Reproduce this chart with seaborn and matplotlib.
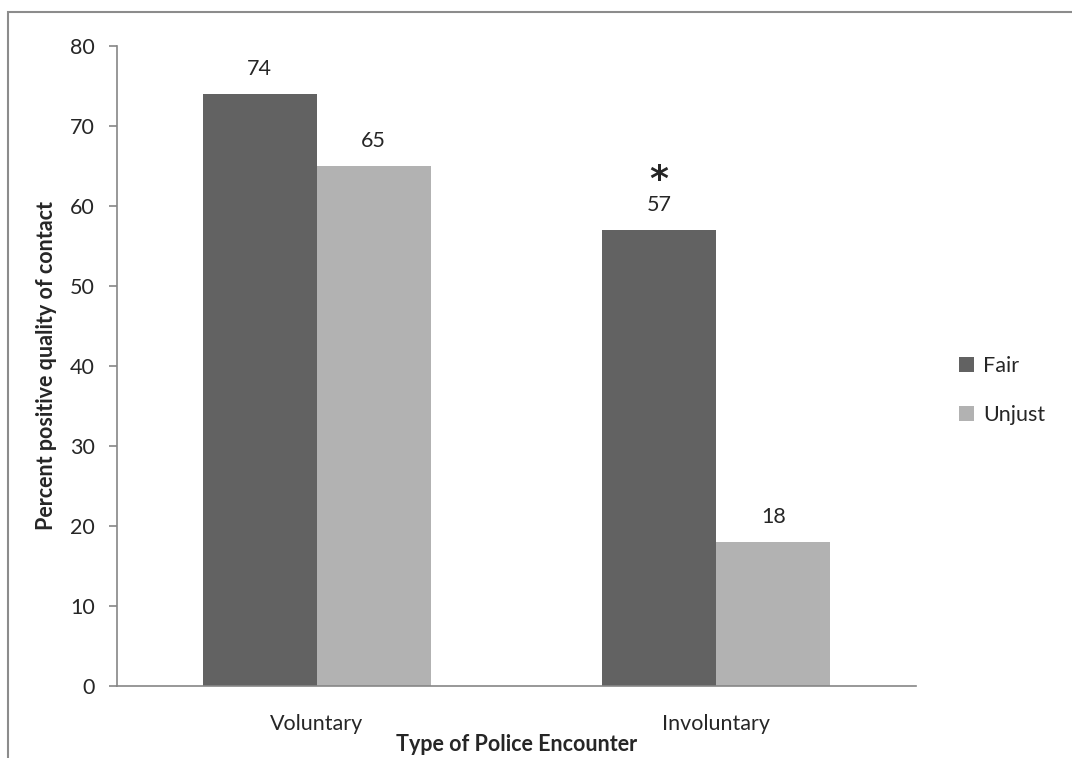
import matplotlib
matplotlib.use("Agg")
import matplotlib.pyplot as plt
import seaborn as sns
import pandas as pd
from matplotlib.patches import Rectangle

categories = ["Voluntary", "Involuntary"]
series = ["Fair", "Unjust"]
fair_values = [74, 57]
unjust_values = [65, 18]
y_ticks = [0, 10, 20, 30, 40, 50, 60, 70, 80]
colors = ["#626262", "#b2b2b2"]

df = pd.DataFrame({
    "Encounter": categories * 2,
    "Group": [series[0]] * 2 + [series[1]] * 2,
    "Value": fair_values + unjust_values,
})

sns.set_style("white")
plt.rcParams["font.family"] = ["Lato", "DejaVu Sans"]

fs = 15.5
fig = plt.figure(figsize=(10.72, 7.58), dpi=100)
ax = fig.add_axes([117/1072, 1-686/758, (916-117)/1072, (686-46)/758])

sns.barplot(data=df, x="Encounter", y="Value", hue="Group", order=categories,
            hue_order=series, palette=colors, width=0.571, ax=ax,
            saturation=1, errorbar=None, edgecolor="none", linewidth=0)

ax.set_xlim(-0.5, 1.5)
ax.set_ylim(0, 80)
ax.set_yticks(y_ticks)
ax.set_yticklabels([str(t) for t in y_ticks], fontsize=fs)
ax.set_xticks([0, 1])
ax.set_xticklabels(categories, fontsize=fs)
ax.set_xticks([-0.5, 0.5, 1.5], minor=True)
ax.tick_params(axis="x", which="major", length=0, pad=20)
ax.tick_params(axis="x", which="minor", length=7, width=1.2, color="#868686", direction="out")
ax.tick_params(axis="y", length=6, width=1.2, color="#868686", direction="out", left=True, pad=10)

for s in ["top", "right"]:
    ax.spines[s].set_visible(False)
for s in ["left", "bottom"]:
    ax.spines[s].set_color("#868686")
    ax.spines[s].set_linewidth(1.2)

for cont in ax.containers:
    ax.bar_label(cont, labels=[f"{v:g}" for v in cont.datavalues], padding=11, fontsize=fs)

# asterisk over Involuntary Fair
ax.annotate("*", xy=(1 - 0.571/4, fair_values[1]), xytext=(0, 24), textcoords="offset points",
            ha="center", va="bottom", fontsize=26, fontweight="bold", family="DejaVu Sans")

ax.set_ylabel("Percent positive quality of contact", fontsize=fs, fontweight="bold", labelpad=9)
ax.set_xlabel("Type of Police Encounter", fontsize=fs, fontweight="bold", labelpad=0)

leg = ax.legend(loc="center left", bbox_to_anchor=(1.03, 0.462), frameon=False, fontsize=fs,
                handlelength=0.7, handleheight=0.7, labelspacing=1.35, handletextpad=0.4)

fig.patches.append(Rectangle((8/1072, -0.1), 1.2, (1 - 12/758) + 0.1, transform=fig.transFigure,
                             fill=False, edgecolor="#8c8c8c", linewidth=1.5))

fig.savefig("out.png", dpi=100)
